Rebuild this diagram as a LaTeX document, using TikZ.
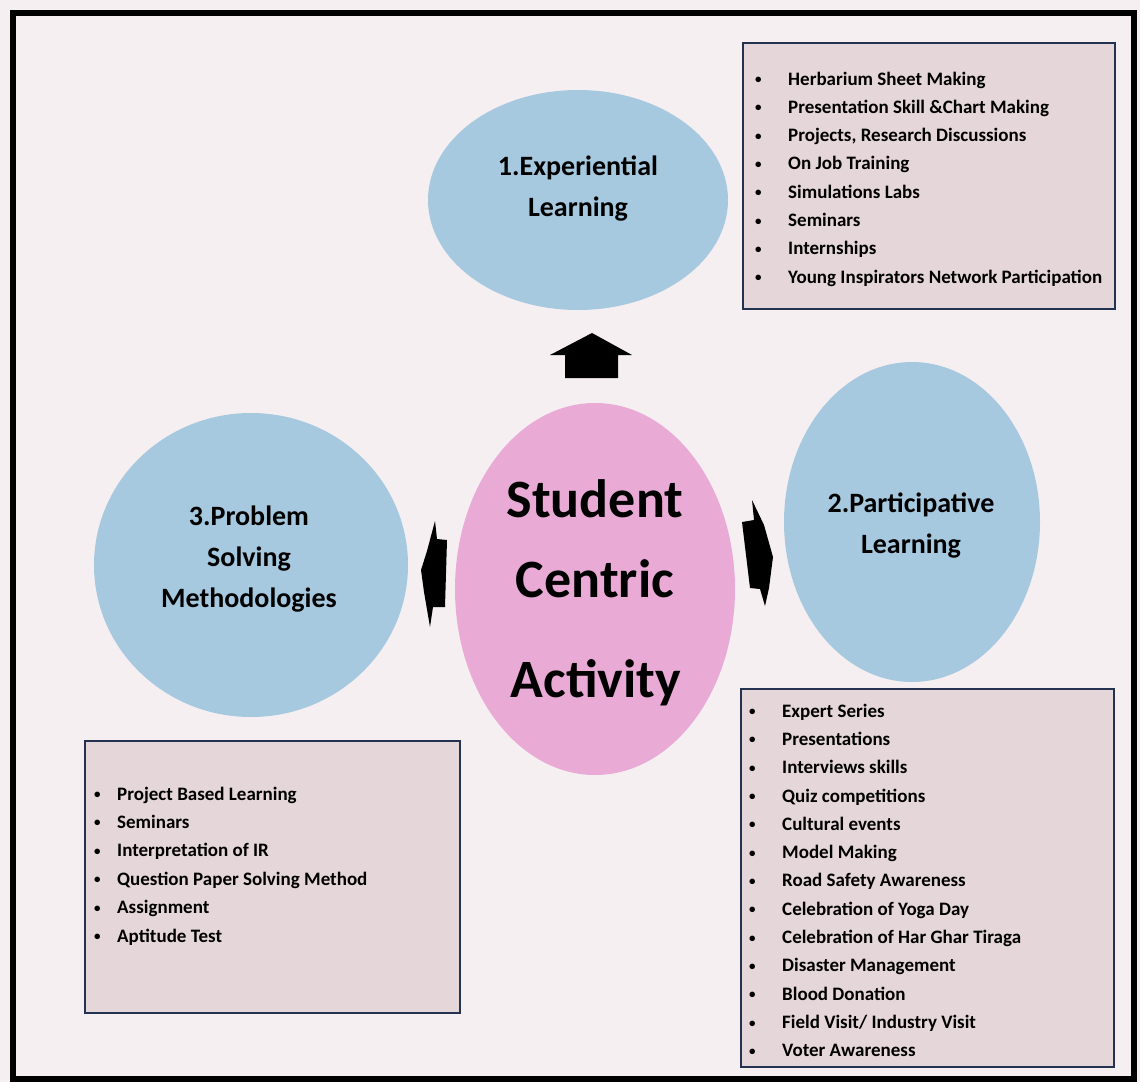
\documentclass[tikz,border=0pt]{standalone}
\usepackage{fontspec}
\setmainfont{Carlito}
\usetikzlibrary{shapes.geometric}
\definecolor{bg}{RGB}{246,239,241}
\definecolor{ellblue}{RGB}{166,201,223}
\definecolor{ellpink}{RGB}{233,170,213}
\definecolor{boxfill}{RGB}{229,215,217}
\definecolor{boxline}{RGB}{35,50,80}
\newcommand{\smbul}{\raisebox{1.5pt}{\fontsize{13}{13}\selectfont•}}
\begin{document}
\begin{tikzpicture}[x=1pt,y=-1pt,
  itm/.style={anchor=base west, inner sep=0pt, font=\fontsize{19}{23}\selectfont\bfseries},
  ttl/.style={anchor=base, inner sep=0pt, font=\fontsize{28}{34}\selectfont\bfseries},
  big/.style={anchor=base, inner sep=0pt, font=\fontsize{54}{60}\selectfont\bfseries},
  ell/.style={ellipse, inner sep=0pt, draw=none},
  listbox/.style={draw=boxline, line width=2.2pt, fill=boxfill},
  blk/.style={fill=black, draw=none}]
\useasboundingbox (0,0) rectangle (1140,1082);
\fill[bg] (0,0) rectangle (1140,1082);
\draw[line width=6pt] (13,13) rectangle (1134,1079);

% ellipses
\node[ell, fill=ellblue, minimum width=300pt, minimum height=220pt] (exp) at (578,200) {};
\node[ell, fill=ellblue, minimum width=256pt, minimum height=320pt] (par) at (912,522) {};
\node[ell, fill=ellblue, minimum width=314pt, minimum height=304pt] (prb) at (251,565) {};
\node[ell, fill=ellpink, minimum width=280pt, minimum height=372pt] (stu) at (595,589) {};

% ellipse titles
\node[ttl] (expa) at (578,175) {1.Experiential};
\node[ttl] (expb) at (578,216) {Learning};
\node[ttl] (para) at (911,512) {2.Participative};
\node[ttl] (parb) at (911,553) {Learning};
\node[ttl] (prba) at (249,525) {3.Problem};
\node[ttl] (prbb) at (249,566) {Solving};
\node[ttl] (prbc) at (249,607) {Methodologies};
\node[big] (stua) at (595,517) {Student};
\node[big] (stub) at (595,597) {Centric};
\node[big] (stuc) at (596,697) {Activity};

% arrows
\fill[blk] (550,355) -- (592,333) -- (632,355) -- (618,355) -- (618,378) -- (565,378) -- (565,355) -- cycle;
\fill[blk] (742,522) -- (754,520) -- (752,500) -- (764,525) -- (773,557) -- (769,588) -- (765,606) -- (760,589) -- (750,588) -- cycle;
\fill[blk] (435,521) -- (437,539) -- (447,540) -- (445,607) -- (433,607) -- (430,627) -- (424,592) -- (421,570) -- (427,551) -- cycle;

% boxes
\node[listbox, minimum width=372pt, minimum height=266pt, anchor=north west] (boxtr) at (742,42) {};
\node[listbox, minimum width=373pt, minimum height=378pt, anchor=north west] (boxbr) at (740,688) {};
\node[listbox, minimum width=375pt, minimum height=272pt, anchor=north west] (boxbl) at (84,740) {};

\foreach \t [count=\i] in {Herbarium Sheet Making, Presentation Skill \&Chart Making, {Projects, Research Discussions}, On Job Training, Simulations Labs, Seminars, Internships, Young Inspirators Network Participation}
  \node[itm] (tr\i) at (755,{85+28.3*(\i-1)}) {\makebox[33pt][l]{\smbul}\t};

\foreach \t [count=\i] in {Expert Series, Presentations, Interviews skills, Quiz competitions, Cultural events, Model Making, Road Safety Awareness, Celebration of Yoga Day, Celebration of Har Ghar Tiraga, Disaster Management, Blood Donation, Field Visit/ Industry Visit, Voter Awareness}
  \node[itm] (br\i) at (749,{717+28.33*(\i-1)}) {\makebox[33pt][l]{\smbul}\t};

\foreach \t [count=\i] in {Project Based Learning, Seminars, Interpretation of IR, Question Paper Solving Method, Assignment, Aptitude Test}
  \node[itm] (bl\i) at (94,{800+28.4*(\i-1)}) {\makebox[23pt][l]{\smbul}\t};
\end{tikzpicture}
\end{document}
